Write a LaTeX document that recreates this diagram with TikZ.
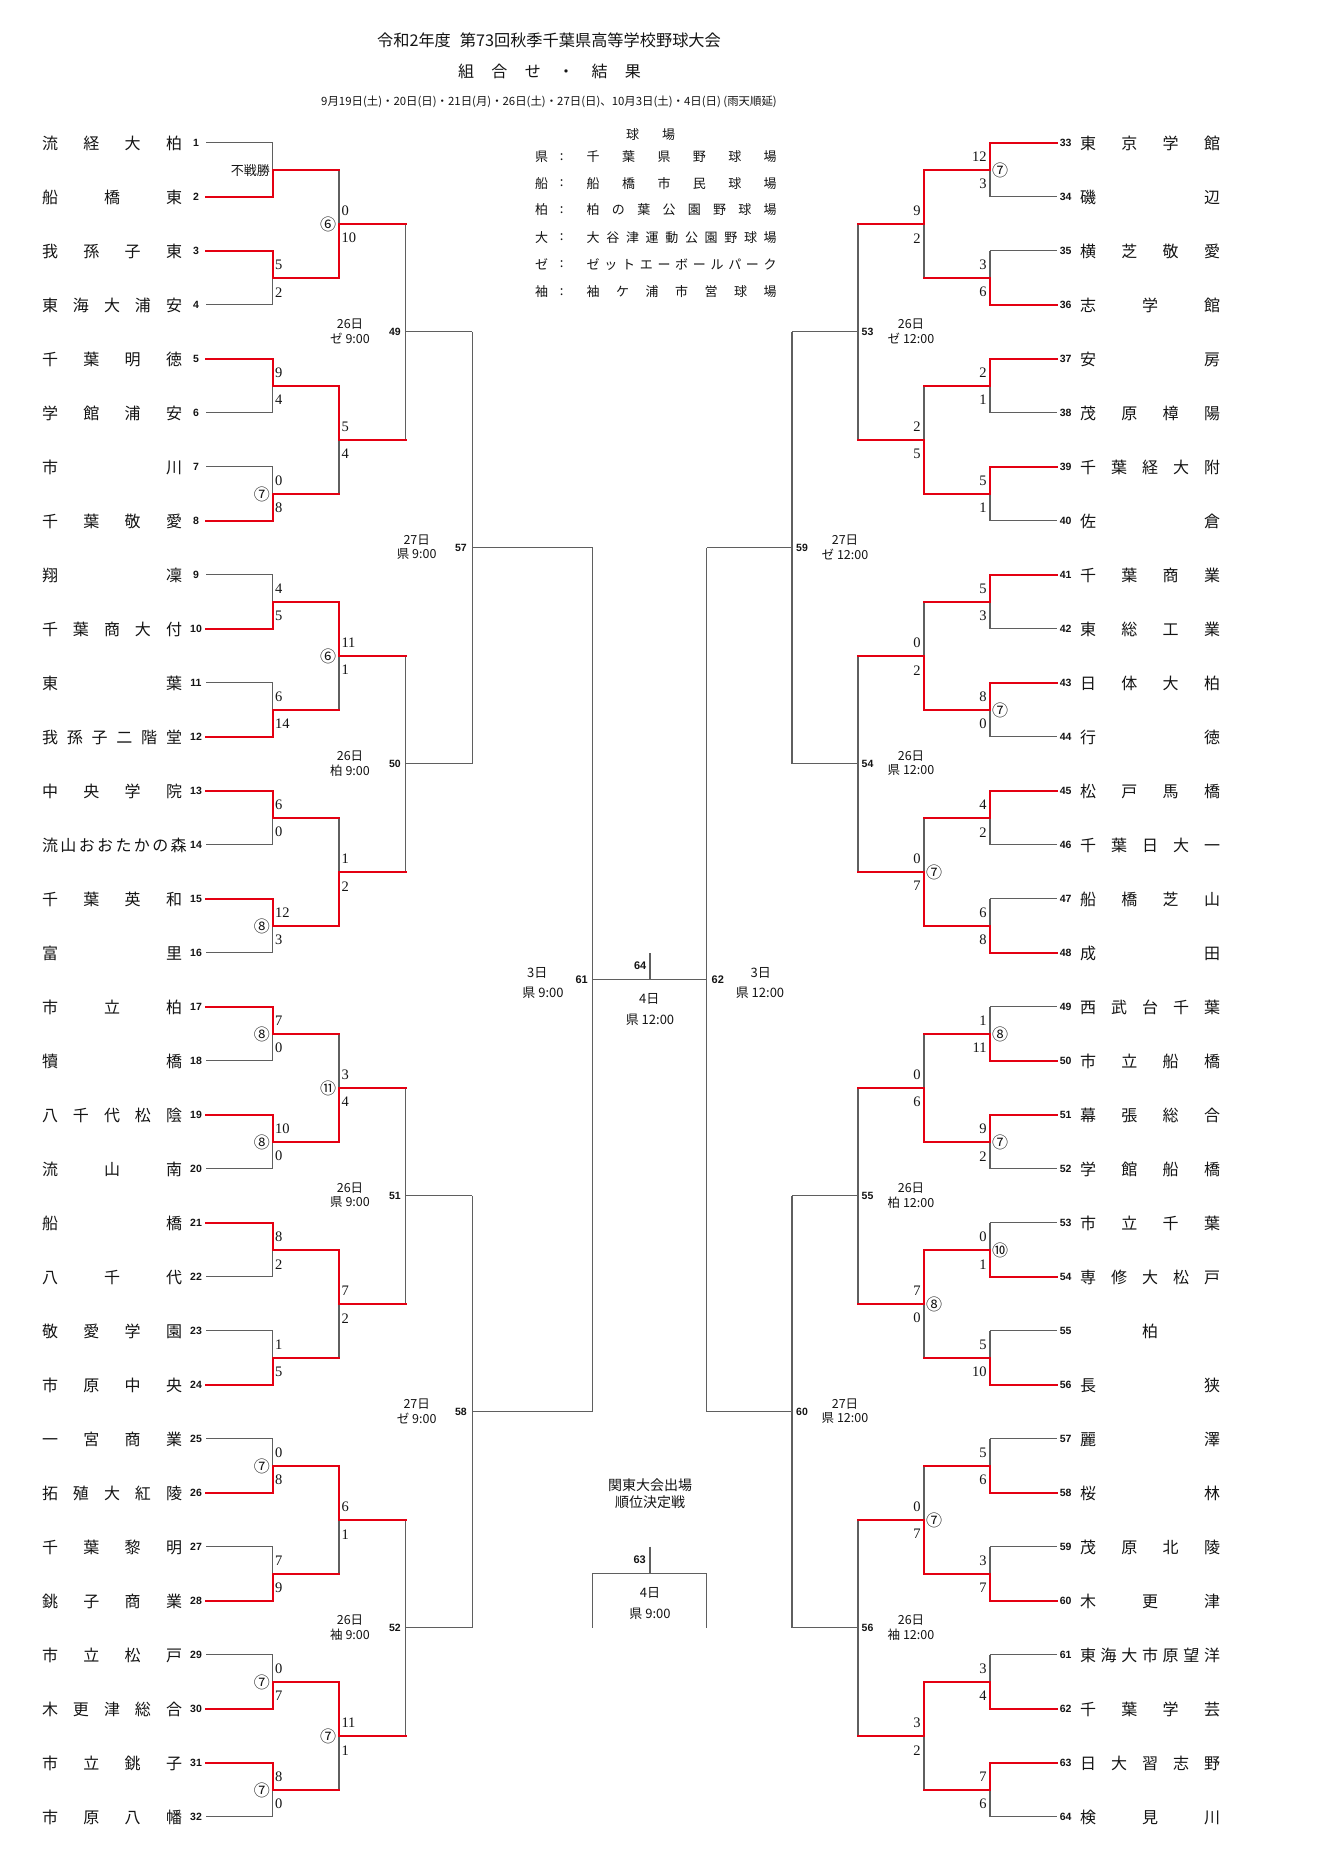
\documentclass[tikz,border=0pt]{standalone}
\usepackage{fontspec}
\setmainfont{Noto Sans CJK JP}
\newfontfamily\jp{Noto Sans CJK JP}
\newfontfamily\scorefont{Liberation Serif}
\newfontfamily\numfont{Liberation Sans}
\usetikzlibrary{backgrounds}
\definecolor{bred}{RGB}{228,0,18}
\definecolor{lgray}{RGB}{95,95,95}
\definecolor{ink}{RGB}{20,20,20}
\tikzset{
  win/.style={draw=bred,line width=2.2pt,line cap=rect},
  loss/.style={draw=lgray,line width=1.1pt},
  scoretxt/.style={font=\scorefont\fontsize{14.5}{14.5}\selectfont,inner sep=0pt,text=ink},
  numtxt/.style={font=\numfont\bfseries\fontsize{10.5}{10.5}\selectfont,inner sep=0pt,text=ink},
  bignum/.style={font=\numfont\bfseries\fontsize{11}{11}\selectfont,inner sep=0pt,text=ink},
  nametxt/.style={font=\jp\fontsize{16}{16}\selectfont,inner sep=0pt,text=ink},
  circtxt/.style={font=\jp\fontsize{16}{16}\selectfont,inner sep=0pt,text=ink},
  timetxt/.style={font=\jp\fontsize{12.5}{12.5}\selectfont,inner sep=0pt,text=ink},
  ctrtxt/.style={font=\jp\fontsize{13}{13}\selectfont,inner sep=0pt,text=ink},
  legtxt/.style={font=\jp\fontsize{13}{13}\selectfont,inner sep=0pt,text=ink},
}
% team: side, number, name, winner flag
\newcommand\tm[4]{%
  \if#1L%
    \pgfmathsetmacro\tmY{142.7+54*(#2-1)}\def\tmXa{206}\def\tmXb{272.7}\def\tmXk{196}\def\tmXn{112}%
  \else
    \pgfmathsetmacro\tmY{142.7+54*(#2-33)}\def\tmXa{1056.7}\def\tmXb{990}\def\tmXk{1065.7}\def\tmXn{1150}%
  \fi
  \coordinate (ta#2) at (\tmXa,\tmY);
  \coordinate (tb#2) at (\tmXb,\tmY);
  \ifnum#4=1 \draw[win] (ta#2)--(tb#2);
  \else \begin{scope}[on background layer]\draw[loss] (ta#2)--(tb#2);\end{scope}\fi
  \node[numtxt] (k#2) at (\tmXk,\tmY) {#2};
  \node[nametxt] (n#2) at (\tmXn,\tmY+1) {\makebox[140pt][s]{#3}};
}
% match: side, round, index, winner(u/l/n), upper score, lower score, circled
\newcommand\mt[7]{%
  \pgfmathsetmacro\mtTu{(#3-1)*pow(2,#2)+1+(pow(2,#2-1)-1)/2}%
  \pgfmathsetmacro\mtTl{\mtTu+pow(2,#2-1)}%
  \pgfmathsetmacro\mtYu{142.7+54*(\mtTu-1)}%
  \pgfmathsetmacro\mtYl{142.7+54*(\mtTl-1)}%
  \pgfmathsetmacro\mtYm{(\mtYu+\mtYl)/2}%
  \if#1L%
    \ifcase#2\or\def\mtXv{272.7}\def\mtXo{339}%
    \or\def\mtXv{339}\def\mtXo{405.7}%
    \or\def\mtXv{405.7}\def\mtXo{472.3}%
    \or\def\mtXv{472.3}\def\mtXo{592.7}\fi
    \pgfmathsetmacro\mtXs{\mtXv+2.3}\def\mtA{west}%
    \pgfmathsetmacro\mtXc{\mtXv-10.8}%
  \else
    \ifcase#2\or\def\mtXv{990}\def\mtXo{924}%
    \or\def\mtXv{924}\def\mtXo{858}%
    \or\def\mtXv{858}\def\mtXo{792}%
    \or\def\mtXv{792}\def\mtXo{706.7}\fi
    \pgfmathsetmacro\mtXs{\mtXv-3.3}\def\mtA{east}%
    \pgfmathsetmacro\mtXc{\mtXv+10}%
  \fi
  \coordinate (#1#2u#3) at (\mtXv,\mtYu);
  \coordinate (#1#2l#3) at (\mtXv,\mtYl);
  \coordinate (#1#2m#3) at (\mtXv,\mtYm);
  \coordinate (#1#2o#3) at (\mtXo,\mtYm);
  \if#4u%
    \begin{scope}[on background layer]\draw[loss] (#1#2m#3)--(#1#2l#3);\end{scope}
    \draw[win] (#1#2u#3)--(#1#2m#3)--(#1#2o#3);
  \else\if#4l%
    \begin{scope}[on background layer]\draw[loss] (#1#2u#3)--(#1#2m#3);\end{scope}
    \draw[win] (#1#2l#3)--(#1#2m#3)--(#1#2o#3);
  \else
    \begin{scope}[on background layer]\draw[loss] (#1#2u#3)--(#1#2l#3) (#1#2m#3)--(#1#2o#3);\end{scope}
  \fi\fi
  \node[scoretxt,anchor=\mtA] (#1#2a#3) at (\mtXs,\mtYm-12.8) {#5};
  \node[scoretxt,anchor=\mtA] (#1#2b#3) at (\mtXs,\mtYm+14.5) {#6};
  \node[circtxt] (#1#2c#3) at (\mtXc,\mtYm+1) {#7};
}
% label: anchor, x number, x time, y, number, day, venue
\newcommand\lab[7]{%
  \node[numtxt,anchor=#1] (m#5) at (#2,#4) {#5};
  \node[timetxt] (d#5) at (#3,#4-7.7) {#6};
  \node[timetxt] (v#5) at (#3,#4+6.6) {#7};
}
\begin{document}
\begin{tikzpicture}[x=1pt,y=-1pt]
\begin{scope}[on background layer]
\fill[white] (0,0) rectangle (1332,1865);
\end{scope}
\useasboundingbox (0,0) rectangle (1332,1865);

% header
\node[font=\jp\fontsize{16.2}{16.2}\selectfont,inner sep=0pt,text=ink] (title) at (549,40) {令和2年度\hspace{9pt}第73回秋季千葉県高等学校野球大会};
\node[font=\jp\fontsize{16}{16}\selectfont,inner sep=0pt,text=ink] (sub) at (549.5,71.7) {\makebox[183pt][s]{組 合 せ ・ 結 果}};
\node[font=\jp\fontsize{11.4}{11.4}\selectfont,inner sep=0pt,text=ink] (date) at (549,102.3) {9月19日(土)・20日(日)・21日(月)・26日(土)・27日(日)、10月3日(土)・4日(日) (雨天順延)};

% legend
\node[legtxt] (lgh) at (650.5,135) {\makebox[49pt][s]{球 場}};
\node[legtxt] (lga1) at (541.7,156.7) {県};
\node[legtxt] (lgc1) at (561.7,156.7) {:};
\node[legtxt] (lgb1) at (681.7,156.7) {\makebox[190pt][s]{千 葉 県 野 球 場}};
\node[legtxt] (lga2) at (541.7,183.3) {船};
\node[legtxt] (lgc2) at (561.7,183.3) {:};
\node[legtxt] (lgb2) at (681.7,183.3) {\makebox[190pt][s]{船 橋 市 民 球 場}};
\node[legtxt] (lga3) at (541.7,210) {柏};
\node[legtxt] (lgc3) at (561.7,210) {:};
\node[legtxt] (lgb3) at (681.7,210) {\makebox[190pt][s]{柏 の 葉 公 園 野 球 場}};
\node[legtxt] (lga4) at (541.7,237.3) {大};
\node[legtxt] (lgc4) at (561.7,237.3) {:};
\node[legtxt] (lgb4) at (681.7,237.3) {\makebox[190pt][s]{大 谷 津 運 動 公 園 野 球 場}};
\node[legtxt] (lga5) at (541.7,264.3) {ゼ};
\node[legtxt] (lgc5) at (561.7,264.3) {:};
\node[legtxt] (lgb5) at (681.7,264.3) {\makebox[190pt][s]{ゼ ッ ト エ ー ボ ー ル パ ー ク}};
\node[legtxt] (lga6) at (541.7,291.7) {袖};
\node[legtxt] (lgc6) at (561.7,291.7) {:};
\node[legtxt] (lgb6) at (681.7,291.7) {\makebox[190pt][s]{袖 ケ 浦 市 営 球 場}};

% left teams
\tm{L}{1}{流 経 大 柏}{0}
\tm{L}{2}{船 橋 東}{1}
\tm{L}{3}{我 孫 子 東}{1}
\tm{L}{4}{東 海 大 浦 安}{0}
\tm{L}{5}{千 葉 明 徳}{1}
\tm{L}{6}{学 館 浦 安}{0}
\tm{L}{7}{市 川}{0}
\tm{L}{8}{千 葉 敬 愛}{1}
\tm{L}{9}{翔 凜}{0}
\tm{L}{10}{千 葉 商 大 付}{1}
\tm{L}{11}{東 葉}{0}
\tm{L}{12}{我 孫 子 二 階 堂}{1}
\tm{L}{13}{中 央 学 院}{1}
\tm{L}{14}{流 山 お お た か の 森}{0}
\tm{L}{15}{千 葉 英 和}{1}
\tm{L}{16}{富 里}{0}
\tm{L}{17}{市 立 柏}{1}
\tm{L}{18}{犢 橋}{0}
\tm{L}{19}{八 千 代 松 陰}{1}
\tm{L}{20}{流 山 南}{0}
\tm{L}{21}{船 橋}{1}
\tm{L}{22}{八 千 代}{0}
\tm{L}{23}{敬 愛 学 園}{0}
\tm{L}{24}{市 原 中 央}{1}
\tm{L}{25}{一 宮 商 業}{0}
\tm{L}{26}{拓 殖 大 紅 陵}{1}
\tm{L}{27}{千 葉 黎 明}{0}
\tm{L}{28}{銚 子 商 業}{1}
\tm{L}{29}{市 立 松 戸}{0}
\tm{L}{30}{木 更 津 総 合}{1}
\tm{L}{31}{市 立 銚 子}{1}
\tm{L}{32}{市 原 八 幡}{0}
% right teams
\tm{R}{33}{東 京 学 館}{1}
\tm{R}{34}{磯 辺}{0}
\tm{R}{35}{横 芝 敬 愛}{0}
\tm{R}{36}{志 学 館}{1}
\tm{R}{37}{安 房}{1}
\tm{R}{38}{茂 原 樟 陽}{0}
\tm{R}{39}{千 葉 経 大 附}{1}
\tm{R}{40}{佐 倉}{0}
\tm{R}{41}{千 葉 商 業}{1}
\tm{R}{42}{東 総 工 業}{0}
\tm{R}{43}{日 体 大 柏}{1}
\tm{R}{44}{行 徳}{0}
\tm{R}{45}{松 戸 馬 橋}{1}
\tm{R}{46}{千 葉 日 大 一}{0}
\tm{R}{47}{船 橋 芝 山}{0}
\tm{R}{48}{成 田}{1}
\tm{R}{49}{西 武 台 千 葉}{0}
\tm{R}{50}{市 立 船 橋}{1}
\tm{R}{51}{幕 張 総 合}{1}
\tm{R}{52}{学 館 船 橋}{0}
\tm{R}{53}{市 立 千 葉}{0}
\tm{R}{54}{専 修 大 松 戸}{1}
\tm{R}{55}{\hfill 柏\hfill}{0}
\tm{R}{56}{長 狭}{1}
\tm{R}{57}{麗 澤}{0}
\tm{R}{58}{桜 林}{1}
\tm{R}{59}{茂 原 北 陵}{0}
\tm{R}{60}{木 更 津}{1}
\tm{R}{61}{東 海 大 市 原 望 洋}{0}
\tm{R}{62}{千 葉 学 芸}{1}
\tm{R}{63}{日 大 習 志 野}{1}
\tm{R}{64}{検 見 川}{0}

% left matches
\mt{L}{1}{1}{l}{}{}{}
\mt{L}{1}{2}{u}{5}{2}{}
\mt{L}{1}{3}{u}{9}{4}{}
\mt{L}{1}{4}{l}{0}{8}{⑦}
\mt{L}{1}{5}{l}{4}{5}{}
\mt{L}{1}{6}{l}{6}{14}{}
\mt{L}{1}{7}{u}{6}{0}{}
\mt{L}{1}{8}{u}{12}{3}{⑧}
\mt{L}{1}{9}{u}{7}{0}{⑧}
\mt{L}{1}{10}{u}{10}{0}{⑧}
\mt{L}{1}{11}{u}{8}{2}{}
\mt{L}{1}{12}{l}{1}{5}{}
\mt{L}{1}{13}{l}{0}{8}{⑦}
\mt{L}{1}{14}{l}{7}{9}{}
\mt{L}{1}{15}{l}{0}{7}{⑦}
\mt{L}{1}{16}{u}{8}{0}{⑦}
\mt{L}{2}{1}{l}{0}{10}{⑥}
\mt{L}{2}{2}{u}{5}{4}{}
\mt{L}{2}{3}{u}{11}{1}{⑥}
\mt{L}{2}{4}{l}{1}{2}{}
\mt{L}{2}{5}{l}{3}{4}{⑪}
\mt{L}{2}{6}{u}{7}{2}{}
\mt{L}{2}{7}{u}{6}{1}{}
\mt{L}{2}{8}{u}{11}{1}{⑦}
\mt{L}{3}{1}{n}{}{}{}
\mt{L}{3}{2}{n}{}{}{}
\mt{L}{3}{3}{n}{}{}{}
\mt{L}{3}{4}{n}{}{}{}
\mt{L}{4}{1}{n}{}{}{}
\mt{L}{4}{2}{n}{}{}{}
\node[ctrtxt,anchor=east] (fusen) at (270,170.7) {不戦勝};

% right matches
\mt{R}{1}{1}{u}{12}{3}{⑦}
\mt{R}{1}{2}{l}{3}{6}{}
\mt{R}{1}{3}{u}{2}{1}{}
\mt{R}{1}{4}{u}{5}{1}{}
\mt{R}{1}{5}{u}{5}{3}{}
\mt{R}{1}{6}{u}{8}{0}{⑦}
\mt{R}{1}{7}{u}{4}{2}{}
\mt{R}{1}{8}{l}{6}{8}{}
\mt{R}{1}{9}{l}{1}{11}{⑧}
\mt{R}{1}{10}{u}{9}{2}{⑦}
\mt{R}{1}{11}{l}{0}{1}{⑩}
\mt{R}{1}{12}{l}{5}{10}{}
\mt{R}{1}{13}{l}{5}{6}{}
\mt{R}{1}{14}{l}{3}{7}{}
\mt{R}{1}{15}{l}{3}{4}{}
\mt{R}{1}{16}{u}{7}{6}{}
\mt{R}{2}{1}{u}{9}{2}{}
\mt{R}{2}{2}{l}{2}{5}{}
\mt{R}{2}{3}{l}{0}{2}{}
\mt{R}{2}{4}{l}{0}{7}{⑦}
\mt{R}{2}{5}{l}{0}{6}{}
\mt{R}{2}{6}{u}{7}{0}{⑧}
\mt{R}{2}{7}{l}{0}{7}{⑦}
\mt{R}{2}{8}{u}{3}{2}{}
\mt{R}{3}{1}{n}{}{}{}
\mt{R}{3}{2}{n}{}{}{}
\mt{R}{3}{3}{n}{}{}{}
\mt{R}{3}{4}{n}{}{}{}
\mt{R}{4}{1}{n}{}{}{}
\mt{R}{4}{2}{n}{}{}{}

% round labels
\lab{east}{401}{350}{331.7}{49}{26日}{ゼ 9:00}
\lab{east}{401}{350}{763.7}{50}{26日}{柏 9:00}
\lab{east}{401}{350}{1195.7}{51}{26日}{県 9:00}
\lab{east}{401}{350}{1627.7}{52}{26日}{袖 9:00}
\lab{east}{467}{416.7}{547.7}{57}{27日}{県 9:00}
\lab{east}{467}{416.7}{1411.7}{58}{27日}{ゼ 9:00}
\lab{west}{861.5}{911}{331.7}{53}{26日}{ゼ 12:00}
\lab{west}{861.5}{911}{763.7}{54}{26日}{県 12:00}
\lab{west}{861.5}{911}{1195.7}{55}{26日}{柏 12:00}
\lab{west}{861.5}{911}{1627.7}{56}{26日}{袖 12:00}
\lab{west}{796}{845}{547.7}{59}{27日}{ゼ 12:00}
\lab{west}{796}{845}{1411.7}{60}{27日}{県 12:00}

% semifinals and final
\coordinate (s61t) at (592.7,547.7);
\coordinate (s61b) at (592.7,1411.7);
\coordinate (s61m) at (592.7,979.7);
\coordinate (s62t) at (706.7,547.7);
\coordinate (s62b) at (706.7,1411.7);
\coordinate (s62m) at (706.7,979.7);
\coordinate (f64m) at (650,979.7);
\coordinate (f64t) at (650,952.7);
\draw[loss] (s61t)--(s61b) (s62t)--(s62b) (s61m)--(s62m) (f64m)--(f64t);
\node[bignum,anchor=east] (m61) at (588,979.7) {61};
\node[bignum,anchor=west] (m62) at (711.5,979.7) {62};
\node[bignum,anchor=east] (m64) at (646.5,966) {64};
\node[ctrtxt] (d61) at (537.3,972.7) {3日};
\node[ctrtxt] (v61) at (543,993.3) {県 9:00};
\node[ctrtxt] (d62) at (760.7,972.7) {3日};
\node[ctrtxt] (v62) at (760,993.3) {県 12:00};
\node[ctrtxt] (d64) at (649.3,999.3) {4日};
\node[ctrtxt] (v64) at (650,1020) {県 12:00};

% third-place match
\node[font=\jp\fontsize{14}{14}\selectfont,inner sep=0pt,text=ink] (k1) at (650,1485) {関東大会出場};
\node[font=\jp\fontsize{14}{14}\selectfont,inner sep=0pt,text=ink] (k2) at (650,1502.3) {順位決定戦};
\coordinate (g63t) at (650,1546.7);
\coordinate (g63m) at (650,1573.7);
\coordinate (gL) at (592.7,1573.7);
\coordinate (gR) at (706.7,1573.7);
\coordinate (gLb) at (592.7,1627.7);
\coordinate (gRb) at (706.7,1627.7);
\draw[loss] (g63t)--(g63m) (gLb)--(gL)--(gR)--(gRb);
\node[bignum,anchor=east] (m63) at (646,1560) {63};
\node[ctrtxt] (d63) at (650,1593) {4日};
\node[ctrtxt] (v63) at (650,1614) {県 9:00};
\end{tikzpicture}
\end{document}
